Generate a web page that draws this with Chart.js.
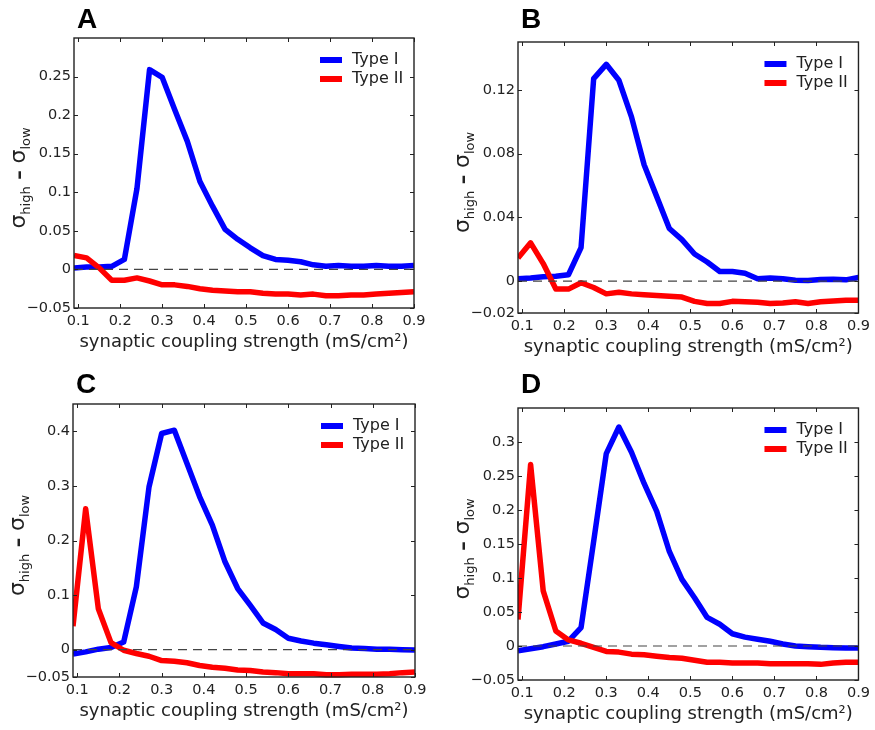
<!DOCTYPE html>
<html>
<head>
<meta charset="utf-8">
<script src="https://cdn.jsdelivr.net/npm/chart.js@4.4.0/dist/chart.umd.min.js"></script>
<style>
  html, body { margin: 0; padding: 0; background: #fff; }
  #wrap { position: relative; width: 875px; height: 730px; }
  canvas { position: absolute; }
</style>
</head>
<body>
<div id="wrap">
  <canvas id="chartA" width="437" height="365" style="left:0;top:0"></canvas>
  <canvas id="chartB" width="438" height="365" style="left:437px;top:0"></canvas>
  <canvas id="chartC" width="437" height="365" style="left:0;top:365px"></canvas>
  <canvas id="chartD" width="438" height="365" style="left:437px;top:365px"></canvas>
</div>
<script>
// synaptic coupling strength (mS/cm^2)
const couplingX = [0.09, 0.12, 0.15, 0.18, 0.21, 0.24, 0.27, 0.30, 0.33, 0.36, 0.39, 0.42, 0.45, 0.48,
  0.51, 0.54, 0.57, 0.60, 0.63, 0.66, 0.69, 0.72, 0.75, 0.78, 0.81, 0.84, 0.87, 0.90];
const xTicks = [0.1, 0.2, 0.3, 0.4, 0.5, 0.6, 0.7, 0.8, 0.9];

// panel A
const typeIA = [0.002, 0.003, 0.003, 0.004, 0.013, 0.105, 0.259, 0.249, 0.207, 0.166, 0.114, 0.082, 0.052, 0.039,
  0.028, 0.018, 0.013, 0.012, 0.010, 0.006, 0.004, 0.005, 0.004, 0.004, 0.005, 0.004, 0.004, 0.005];
const typeIIA = [0.018, 0.015, 0.002, -0.014, -0.014, -0.011, -0.015, -0.020, -0.020, -0.022, -0.025, -0.027, -0.028, -0.029,
  -0.029, -0.031, -0.032, -0.032, -0.033, -0.032, -0.034, -0.034, -0.033, -0.033, -0.032, -0.031, -0.030, -0.029];
const yTicksA = [-0.05, 0, 0.05, 0.1, 0.15, 0.2, 0.25];

// panel B
const typeIB = [0.0015, 0.002, 0.0027, 0.003, 0.004, 0.021, 0.127, 0.136, 0.126, 0.103, 0.073, 0.053, 0.033, 0.026,
  0.017, 0.012, 0.006, 0.006, 0.005, 0.0015, 0.002, 0.0015, 0.0006, 0.0004, 0.001, 0.0012, 0.0008, 0.0023];
const typeIIB = [0.0145, 0.024, 0.011, -0.005, -0.005, -0.001, -0.004, -0.008, -0.007, -0.008, -0.0085, -0.009, -0.0095, -0.010,
  -0.0127, -0.014, -0.014, -0.0127, -0.013, -0.0133, -0.014, -0.0137, -0.013, -0.014, -0.013, -0.0125, -0.012, -0.012];
const yTicksB = [-0.02, 0, 0.04, 0.08, 0.12];

// panel C
const typeIC = [-0.008, -0.004, 0.001, 0.004, 0.014, 0.115, 0.298, 0.396, 0.402, 0.341, 0.280, 0.228, 0.161, 0.112,
  0.081, 0.049, 0.037, 0.021, 0.016, 0.012, 0.009, 0.006, 0.003, 0.002, 0.001, 0.0006, 0, -0.0006];
const typeIIC = [0.043, 0.258, 0.075, 0.013, -0.001, -0.007, -0.012, -0.020, -0.021, -0.024, -0.029, -0.032, -0.034, -0.037,
  -0.038, -0.041, -0.042, -0.044, -0.044, -0.044, -0.046, -0.046, -0.045, -0.045, -0.045, -0.044, -0.042, -0.041];
const yTicksC = [-0.05, 0, 0.1, 0.2, 0.3, 0.4];

// panel D
const typeID = [-0.007, -0.004, -0.001, 0.003, 0.007, 0.027, 0.154, 0.283, 0.322, 0.285, 0.239, 0.198, 0.139, 0.098,
  0.071, 0.042, 0.032, 0.018, 0.013, 0.010, 0.007, 0.003, 0, -0.001, -0.002, -0.0025, -0.003, -0.003];
const typeIID = [0.039, 0.267, 0.081, 0.022, 0.009, 0.004, -0.002, -0.008, -0.009, -0.012, -0.013, -0.015, -0.017, -0.018,
  -0.021, -0.024, -0.024, -0.025, -0.025, -0.025, -0.026, -0.026, -0.026, -0.026, -0.027, -0.025, -0.024, -0.024];
const yTicksD = [-0.05, 0, 0.05, 0.1, 0.15, 0.2, 0.25, 0.3];

const seriesNames = ["Type I", "Type II"];
const FONT = "'DejaVu Sans', sans-serif";
const TEXT = "#222";

// frame with inward ticks, legend, panel letter and y label
const decorations = {
  id: "decorations",
  afterDraw(chart, args, opts) {
    const { ctx, chartArea: a, scales } = chart;
    const x = scales.x, y = scales.y;
    ctx.save();

    // tick marks pointing inward on all four sides
    ctx.strokeStyle = TEXT;
    ctx.lineWidth = 1;
    ctx.beginPath();
    x.ticks.forEach((t) => {
      const px = Math.round(x.getPixelForValue(t.value)) + 0.5;
      ctx.moveTo(px, a.bottom); ctx.lineTo(px, a.bottom - 4);
      ctx.moveTo(px, a.top); ctx.lineTo(px, a.top + 4);
    });
    y.ticks.forEach((t) => {
      const py = Math.round(y.getPixelForValue(t.value)) + 0.5;
      ctx.moveTo(a.left, py); ctx.lineTo(a.left + 4, py);
      ctx.moveTo(a.right, py); ctx.lineTo(a.right - 4, py);
    });
    ctx.stroke();
    ctx.lineWidth = 1.4;
    ctx.strokeRect(a.left, a.top, a.right - a.left, a.bottom - a.top);

    // legend inside the top right corner
    const rows = chart.data.datasets.filter((d) => seriesNames.includes(d.label));
    rows.forEach((d, i) => {
      const ry = a.top + 22 + i * 19;
      ctx.strokeStyle = d.borderColor;
      ctx.lineWidth = 6;
      ctx.beginPath();
      ctx.moveTo(a.right - 94, ry);
      ctx.lineTo(a.right - 72, ry);
      ctx.stroke();
      ctx.fillStyle = TEXT;
      ctx.font = "16px " + FONT;
      ctx.textAlign = "left";
      ctx.textBaseline = "middle";
      ctx.fillText(d.label, a.right - 62, ry);
    });

    // panel letter
    ctx.fillStyle = "#000";
    ctx.font = "bold 28px 'Liberation Sans', Arial, sans-serif";
    ctx.textAlign = "left";
    ctx.textBaseline = "alphabetic";
    ctx.fillText(opts.letter, a.left + 3, 28);

    // y label: sigma_high - sigma_low, rotated
    const parts = [
      { t: "σ", f: "22px " + FONT, dy: 0 },
      { t: "high", f: "13px " + FONT, dy: 5 },
      { t: " – ", f: "bold 19px " + FONT, dy: 0 },
      { t: "σ", f: "22px " + FONT, dy: 0 },
      { t: "low", f: "13px " + FONT, dy: 5 },
    ];
    let total = 0;
    parts.forEach((p) => { ctx.font = p.f; p.w = ctx.measureText(p.t).width; total += p.w; });
    ctx.translate(a.left - 49, (a.top + a.bottom) / 2 + 5);
    ctx.rotate(-Math.PI / 2);
    ctx.fillStyle = TEXT;
    let cx = -total / 2;
    parts.forEach((p) => {
      ctx.font = p.f;
      ctx.fillText(p.t, cx, p.dy);
      cx += p.w;
    });
    ctx.restore();
  },
};

function fmt(v) {
  return v === 0 ? "0" : String(v).replace("-", "\u2212");
}

function makePanel(id, letter, typeI, typeII, yTicks, yMin, yMax, box) {
  const canvas = document.getElementById(id);
  return new Chart(canvas, {
    type: "line",
    data: {
      labels: couplingX,
      datasets: [
        {
          label: seriesNames[0],
          data: typeI,
          borderColor: "#0000ff",
          borderWidth: 5.5,
          order: 3,
        },
        {
          label: seriesNames[1],
          data: typeII,
          borderColor: "#ff0000",
          borderWidth: 5.5,
          order: 2,
        },
        {
          label: "zero",
          data: couplingX.map(() => 0),
          borderColor: "#444",
          borderWidth: 1.2,
          borderDash: [9, 6],
          order: 1,
        },
      ],
    },
    options: {
      responsive: false,
      animation: false,
      events: [],
      layout: { padding: { top: box.top, right: box.right, left: 0, bottom: 0 } },
      elements: {
        point: { radius: 0 },
        line: { tension: 0, borderJoinStyle: "round", borderCapStyle: "butt" },
      },
      datasets: { line: { clip: { left: 0, right: 0, top: 10, bottom: 10 } } },
      plugins: {
        legend: { display: false },
        tooltip: { enabled: false },
        decorations: { letter: letter },
      },
      scales: {
        x: {
          type: "linear",
          min: 0.09,
          max: 0.9,
          afterFit: (s) => { s.height = box.bottom; },
          afterBuildTicks: (s) => { s.ticks = xTicks.map((v) => ({ value: v })); },
          grid: { display: false, drawTicks: false },
          border: { display: false },
          ticks: {
            padding: 5,
            color: TEXT,
            font: { family: FONT, size: 14.5 },
            maxRotation: 0,
            autoSkip: false,
            callback: (v) => fmt(v),
          },
          title: {
            display: true,
            text: "synaptic coupling strength (mS/cm²)",
            color: TEXT,
            font: { family: FONT, size: 18 },
            padding: { top: 0, bottom: box.bottom - 45 },
          },
        },
        y: {
          type: "linear",
          min: yMin,
          max: yMax,
          afterFit: (s) => { s.width = box.left; },
          afterBuildTicks: (s) => { s.ticks = yTicks.map((v) => ({ value: v })); },
          grid: { display: false, drawTicks: false },
          border: { display: false },
          ticks: {
            padding: 3,
            color: TEXT,
            font: { family: FONT, size: 14.5 },
            autoSkip: false,
            callback: (v) => fmt(v),
          },
        },
      },
    },
    plugins: [decorations],
  });
}

makePanel("chartA", "A", typeIA, typeIIA, yTicksA, -0.05, 0.3, { left: 74, top: 38, right: 23, bottom: 57 });
makePanel("chartB", "B", typeIB, typeIIB, yTicksB, -0.02, 0.15, { left: 81, top: 42, right: 16, bottom: 52 });
makePanel("chartC", "C", typeIC, typeIIC, yTicksC, -0.05, 0.45, { left: 73, top: 39, right: 22, bottom: 53 });
makePanel("chartD", "D", typeID, typeIID, yTicksD, -0.05, 0.35, { left: 81, top: 43, right: 15, bottom: 50 });
</script>
</body>
</html>
